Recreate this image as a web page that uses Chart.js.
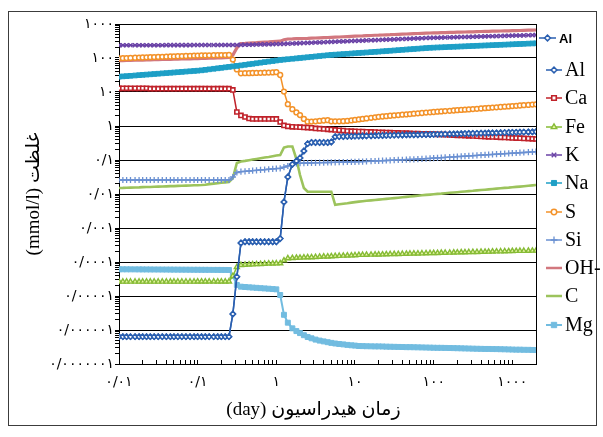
<!DOCTYPE html>
<html>
<head>
<meta charset="utf-8">
<script src="https://cdn.jsdelivr.net/npm/chart.js@4.4.1/dist/chart.umd.min.js"></script>
<style>
  html, body { margin: 0; padding: 0; background: #fff; }
  canvas { display: block; }
</style>
</head>
<body>
<canvas id="chart" width="603" height="437" style="width:603px;height:437px"></canvas>
<script>
// Hydration time in days (model output steps)
const days = [
  0.01,0.0112,0.0125,0.014,0.016,0.018,0.02,0.0224,0.025,0.028,0.0315,0.0355,0.04,0.045,0.05,0.056,0.063,0.071,0.08,0.09,
  0.1,0.112,0.125,0.14,0.16,0.18,0.2,0.224,0.25,0.28,0.315,0.355,0.4,0.45,0.5,0.56,0.63,0.71,0.8,0.9,
  1,1.12,1.25,1.4,1.6,1.8,2,2.24,2.5,2.8,3.15,3.55,4,4.5,5,5.6,6.3,7.1,8,9,
  10,11.2,12.5,14,16,18,20,22.4,25,28,31.5,35.5,40,45,50,56,63,71,80,90,
  100,112,125,140,160,180,200,224,250,280,315,355,400,450,500,560,630,710,800,900,
  1000,1120,1250,1400,1600,1800,2000
];

// Concentrations, mmol/l
const alValues = [
  6.35e-7,6.35e-7,6.35e-7,6.35e-7,6.35e-7,6.35e-7,6.35e-7,6.35e-7,6.35e-7,6.35e-7,6.35e-7,6.35e-7,6.35e-7,6.35e-7,6.35e-7,6.35e-7,6.35e-7,6.35e-7,6.35e-7,6.35e-7,
  6.35e-7,6.35e-7,6.35e-7,6.35e-7,6.35e-7,6.35e-7,6.35e-7,6.35e-7,6.35e-7,2.96e-6,3.67e-5,3.62e-4,3.95e-4,3.95e-4,3.95e-4,3.95e-4,3.95e-4,3.95e-4,3.95e-4,3.95e-4,
  3.95e-4,4.88e-4,5.82e-3,0.0316,0.0748,0.0935,0.115,0.184,0.302,0.327,0.327,0.327,0.327,0.327,0.338,0.484,0.488,0.491,0.495,0.498,
  0.501,0.505,0.508,0.511,0.515,0.518,0.522,0.525,0.529,0.532,0.536,0.540,0.543,0.547,0.551,0.551,0.554,0.558,0.562,0.562,
  0.566,0.570,0.574,0.578,0.582,0.586,0.590,0.594,0.597,0.601,0.606,0.610,0.614,0.618,0.622,0.627,0.631,0.635,0.640,0.644,
  0.648,0.653,0.657,0.662,0.666,0.671,0.680
];

const caValues = [
  12.8,12.8,12.8,12.8,12.8,12.8,12.8,12.8,12.5,12.5,12.5,12.5,12.5,12.5,12.5,12.5,12.5,12.5,12.5,12.5,
  12.5,12.5,12.5,12.5,12.5,12.5,12.5,12.5,12.5,11.5,2.58,2.04,1.84,1.66,1.61,1.61,1.61,1.61,1.61,1.61,
  1.61,1.31,1.04,0.98,0.947,0.935,0.922,0.909,0.897,0.885,0.850,0.833,0.816,0.800,0.784,0.768,0.748,0.732,0.713,0.703,
  0.698,0.689,0.684,0.675,0.670,0.662,0.653,0.648,0.644,0.635,0.631,0.627,0.618,0.614,0.606,0.601,0.597,0.590,0.586,0.582,
  0.574,0.566,0.562,0.555,0.547,0.540,0.532,0.526,0.522,0.515,0.508,0.501,0.494,0.488,0.481,0.478,0.472,0.466,0.459,0.453,
  0.447,0.441,0.438,0.432,0.426,0.421,0.415
];

const feValues = [
  2.64e-5,2.64e-5,2.64e-5,2.64e-5,2.64e-5,2.64e-5,2.64e-5,2.64e-5,2.64e-5,2.64e-5,2.64e-5,2.64e-5,2.64e-5,2.64e-5,2.64e-5,2.64e-5,2.64e-5,2.64e-5,2.64e-5,2.64e-5,
  2.67e-5,2.67e-5,2.67e-5,2.67e-5,2.67e-5,2.67e-5,2.67e-5,2.67e-5,2.67e-5,3.87e-5,7.13e-5,8.17e-5,8.28e-5,8.39e-5,8.50e-5,8.61e-5,8.73e-5,8.85e-5,8.97e-5,9.03e-5,
  9.09e-5,9.16e-5,1.11e-4,1.29e-4,1.31e-4,1.33e-4,1.34e-4,1.36e-4,1.37e-4,1.38e-4,1.40e-4,1.42e-4,1.44e-4,1.45e-4,1.47e-4,1.49e-4,1.51e-4,1.53e-4,1.54e-4,1.56e-4,
  1.58e-4,1.61e-4,1.62e-4,1.63e-4,1.64e-4,1.65e-4,1.66e-4,1.67e-4,1.69e-4,1.70e-4,1.71e-4,1.72e-4,1.73e-4,1.74e-4,1.76e-4,1.77e-4,1.78e-4,1.79e-4,1.81e-4,1.82e-4,
  1.83e-4,1.84e-4,1.86e-4,1.87e-4,1.88e-4,1.89e-4,1.91e-4,1.92e-4,1.93e-4,1.95e-4,1.96e-4,1.97e-4,1.99e-4,2.00e-4,2.01e-4,2.03e-4,2.04e-4,2.05e-4,2.07e-4,2.08e-4,
  2.10e-4,2.11e-4,2.12e-4,2.12e-4,2.14e-4,2.15e-4,2.15e-4
];

const kValues = [
  237,237,237,237,238,238,238,238,238,238,238,238,239,239,239,239,239,239,239,240,
  240,240,240,240,240,241,241,241,241,241,241,243,245,246,248,249,251,252,254,255,
  257,258,261,264,267,270,273,276,279,282,285,288,292,295,298,301,305,308,312,315,
  318,322,325,329,333,336,340,343,347,350,354,358,362,366,370,373,378,382,386,390,
  393,395,398,401,405,407,410,413,416,419,422,426,429,432,435,438,441,445,448,451,
  454,457,460,463,468,471,474
];

const naValues = [
  28.2,28.8,29.3,29.9,30.6,31.3,31.9,32.5,33.1,33.8,34.5,35.3,36.0,36.8,37.5,38.2,39.0,39.9,40.7,41.6,
  42.4,43.4,44.9,46.4,48.2,49.8,51.4,53.1,54.8,56.6,58.6,60.7,63.1,65.5,67.6,70.1,72.8,75.6,78.5,81.5,
  84.3,87.5,89.8,92.1,95.0,97.5,100,102.6,105.2,108.1,111.2,114.3,117.5,120.5,123.3,125.6,128.0,130.6,133.0,135.5,
  138.0,140.6,142.9,145.5,148.9,151.7,154.2,157.4,160.3,163.3,166.7,170.2,173.8,177.4,180.7,184.1,187.9,191.9,195.9,199.5,
  201.8,204.2,206.1,208.4,211.3,213.8,215.8,218.3,220.8,223.4,225.9,228.6,231.2,233.9,236.0,238.8,241.5,244.3,247.2,250.0,
  252.9,255.9,258.2,261.2,264.8,267.9,270.4
];

const sValues = [
  98.0,98.8,99.8,100.7,101.7,102.8,103.5,104.5,105.4,106.4,107.4,108.4,109.4,110.7,111.4,112.5,113.5,114.6,115.9,116.9,
  117.8,118.9,119.4,119.9,120.5,121.1,121.6,121.9,122.5,90,46,35.5,35.7,35.9,36.2,36.4,36.7,36.9,37.2,37.7,
  38.2,31.6,10.3,4.38,3.12,2.51,2.09,1.62,1.34,1.35,1.37,1.41,1.45,1.48,1.37,1.37,1.37,1.39,1.41,1.46,
  1.51,1.56,1.62,1.67,1.74,1.80,1.86,1.90,1.95,2.00,2.05,2.09,2.15,2.19,2.25,2.30,2.36,2.41,2.48,2.53,
  2.58,2.64,2.69,2.74,2.80,2.86,2.92,2.98,3.02,3.08,3.14,3.21,3.27,3.34,3.41,3.48,3.55,3.62,3.70,3.77,
  3.85,3.93,4.01,4.09,4.18,4.26,4.35
];

const siValues = [
  0.0258,0.0258,0.0258,0.0258,0.0258,0.0258,0.0258,0.0258,0.0258,0.0258,0.0258,0.0258,0.0258,0.0258,0.0258,0.0258,0.0258,0.0258,0.0258,0.0258,
  0.0258,0.0258,0.0258,0.0258,0.0258,0.0258,0.0258,0.0258,0.0258,0.0316,0.0429,0.0453,0.0465,0.0474,0.0487,0.0497,0.0510,0.0521,0.0535,0.0547,
  0.0558,0.0570,0.0614,0.0667,0.0733,0.0794,0.0805,0.0811,0.0816,0.0822,0.0827,0.0833,0.0838,0.0844,0.0850,0.0856,0.0862,0.0867,0.0873,0.0879,
  0.0885,0.0891,0.0897,0.0910,0.0922,0.0935,0.0947,0.0954,0.0967,0.0980,0.0993,0.1007,0.1014,0.1028,0.1042,0.1049,0.1063,0.1077,0.1100,0.1115,
  0.1138,0.1153,0.1169,0.1192,0.1217,0.1234,0.1259,0.1276,0.1294,0.1320,0.1338,0.1365,0.1393,0.1412,0.1432,0.1462,0.1482,0.1511,0.1532,0.1563,
  0.1585,0.1607,0.1640,0.1663,0.1696,0.1730,0.1754
];

const ohValues = [
  83.4,84.0,84.5,85.1,85.9,86.5,87.1,87.7,88.3,88.9,89.5,90.2,90.8,91.6,92.0,92.7,93.5,94.2,94.8,95.5,
  96.2,96.8,97.7,98.6,99.8,100.7,101.4,102.3,103.3,122,197,267,270,276,280,284,290,294,298,304,
  308,312,343,362,365,370,372,375,377,382,387,390,395,401,406,412,415,421,426,432,
  438,444,447,453,459,466,469,475,481,484,491,498,505,508,515,522,526,532,536,543,
  547,551,555,558,566,570,574,578,582,586,590,594,601,605,610,614,618,622,627,631,
  635,640,644,653,658,662,666
];

const cValues = [
  0.0150,0.0151,0.0153,0.0154,0.0156,0.0157,0.0159,0.0160,0.0161,0.0163,0.0165,0.0166,0.0168,0.0170,0.0171,0.0173,0.0174,0.0176,0.0178,0.0180,
  0.0181,0.0183,0.0188,0.0195,0.0202,0.0208,0.0214,0.0220,0.0227,0.0296,0.0816,0.0904,0.0941,0.0987,0.1028,0.107,0.112,0.118,0.123,0.129,
  0.135,0.140,0.233,0.249,0.249,0.107,0.0362,0.0150,0.0117,0.0117,0.0117,0.0117,0.0117,0.0117,0.0117,0.00481,0.00501,0.00519,0.00536,0.00558,
  0.00578,0.00598,0.00614,0.00631,0.00649,0.00667,0.00685,0.00703,0.00718,0.00738,0.00757,0.00778,0.00800,0.00822,0.00844,0.00867,0.00891,0.00916,0.00941,0.00960,
  0.00980,0.01007,0.01028,0.01057,0.01084,0.01107,0.01130,0.01161,0.01186,0.01217,0.01242,0.01276,0.01311,0.01337,0.01365,0.01403,0.01442,0.01472,0.01511,0.01543,
  0.01585,0.01618,0.01652,0.01696,0.01742,0.01790,0.01841
];

const mgValues = [
  6.10e-5,6.10e-5,6.09e-5,6.08e-5,6.07e-5,6.06e-5,6.05e-5,6.04e-5,6.03e-5,6.02e-5,6.01e-5,6.00e-5,5.99e-5,5.98e-5,5.97e-5,5.96e-5,5.95e-5,5.94e-5,5.93e-5,5.92e-5,
  5.91e-5,5.90e-5,5.89e-5,5.88e-5,5.87e-5,5.86e-5,5.85e-5,5.84e-5,5.82e-5,3.87e-5,2.11e-5,1.88e-5,1.84e-5,1.80e-5,1.77e-5,1.74e-5,1.70e-5,1.67e-5,1.64e-5,1.60e-5,
  1.57e-5,1.07e-5,2.80e-6,1.64e-6,1.12e-6,9.29e-7,8.11e-7,7.03e-7,6.22e-7,5.70e-7,5.22e-7,4.88e-7,4.62e-7,4.38e-7,4.18e-7,4.01e-7,3.88e-7,3.77e-7,3.65e-7,3.55e-7,
  3.48e-7,3.38e-7,3.36e-7,3.33e-7,3.31e-7,3.29e-7,3.29e-7,3.27e-7,3.24e-7,3.22e-7,3.20e-7,3.18e-7,3.16e-7,3.13e-7,3.13e-7,3.11e-7,3.09e-7,3.07e-7,3.05e-7,3.03e-7,
  3.01e-7,2.99e-7,2.99e-7,2.97e-7,2.95e-7,2.93e-7,2.91e-7,2.89e-7,2.87e-7,2.85e-7,2.83e-7,2.81e-7,2.79e-7,2.77e-7,2.77e-7,2.75e-7,2.74e-7,2.72e-7,2.70e-7,2.68e-7,
  2.66e-7,2.64e-7,2.64e-7,2.62e-7,2.61e-7,2.59e-7,2.57e-7
];

// Axis tick values and their Persian labels
const yTickValues = [1000, 100, 10, 1, 0.1, 0.01, 0.001, 0.0001, 0.00001, 0.000001, 0.0000001];
const yTickLabels = ['۱۰۰۰', '۱۰۰', '۱۰', '۱', '۰/۱', '۰/۰۱', '۰/۰۰۱', '۰/۰۰۰۱', '۰/۰۰۰۰۱', '۰/۰۰۰۰۰۱', '۰/۰۰۰۰۰۰۱'];
const xTickValues = [0.01, 0.1, 1, 10, 100, 1000];
const xTickLabels = ['۰/۰۱', '۰/۱', '۱', '۱۰', '۱۰۰', '۱۰۰۰'];

const yTitle = '(mmol/l) غلظت';
const xTitle = '(day) زمان هیدراسیون';

function isDecade(v) {
  if (!(v > 0)) return false;
  const l = Math.log10(v);
  return Math.abs(l - Math.round(l)) < 1e-6;
}

function labelFor(v, values, labels) {
  if (!isDecade(v)) return '';
  const e = Math.round(Math.log10(v));
  const idx = values.findIndex(t => Math.round(Math.log10(t)) === e);
  return idx >= 0 ? labels[idx] : '';
}

// Major ticks at every decade, minor ticks at 2..9 of each decade
function logTicks(scale) {
  const lo = Math.floor(Math.log10(scale.min));
  const hi = Math.ceil(Math.log10(scale.max));
  const out = [];
  for (let e = lo; e <= hi; e++) {
    for (let m = 1; m <= 9; m++) {
      const v = Number((m * Math.pow(10, e)).toPrecision(6));
      if (v >= scale.min * (1 - 1e-9) && v <= scale.max * (1 + 1e-9)) out.push({ value: v });
    }
  }
  scale.ticks = out;
}

function series(label, values, color, extra) {
  return Object.assign({
    label: label,
    data: days.map((d, i) => ({ x: d, y: values[i] })),
    borderColor: color,
    backgroundColor: color,
    borderWidth: 1.5,
    pointBorderColor: color,
    pointBackgroundColor: '#ffffff',
    pointBorderWidth: 1.5,
    pointRadius: 2.3,
    pointStyle: 'circle',
    tension: 0,
    fill: false
  }, extra);
}

const datasets = [
  series('Al', alValues, '#2a5fb0', { pointStyle: 'rectRot', pointRadius: 2.6, legendBold: true }),
  series('Al', alValues, '#2a5fb0', { pointStyle: 'rectRot', pointRadius: 2.6 }),
  series('Ca', caValues, '#c0222a', { pointStyle: 'rect', pointRadius: 2.9, pointBorderWidth: 1.6 }),
  series('Fe', feValues, '#86bb35', { pointStyle: 'triangle', pointRadius: 2.9, pointBackgroundColor: '#e8f5a8', pointBorderWidth: 1.4 }),
  series('K', kValues, '#6a42a6', { pointStyle: 'crossRot', pointRadius: 2.9, pointBorderWidth: 1.4 }),
  series('Na', naValues, '#1e9fc6', { pointStyle: 'rect', pointRadius: 3.3, pointBackgroundColor: '#1e9fc6', pointBorderWidth: 1 }),
  series('S', sValues, '#f39229', { pointStyle: 'circle', pointRadius: 2.4, pointBorderWidth: 1.5 }),
  series('Si', siValues, '#6a90d2', { pointStyle: 'cross', pointRadius: 3.1, pointBorderWidth: 1.3 }),
  series('OH-', ohValues, '#d2777e', { pointRadius: 0, borderWidth: 3.2 }),
  series('C', cValues, '#9cc35c', { pointRadius: 0, borderWidth: 2.6 }),
  series('Mg', mgValues, '#72bce0', { pointStyle: 'rect', pointRadius: 3.5, pointBackgroundColor: '#72bce0', pointBorderWidth: 1, borderWidth: 2 })
];

// White page, thin outer frame, right-hand edge of the plot box and the x-axis title
const framePlugin = {
  id: 'frame',
  beforeDraw(chart) {
    const ctx = chart.ctx;
    ctx.save();
    ctx.fillStyle = '#ffffff';
    ctx.fillRect(0, 0, chart.width, chart.height);
    ctx.restore();
  },
  afterDraw(chart) {
    const ctx = chart.ctx;
    const a = chart.chartArea;
    ctx.save();
    ctx.strokeStyle = '#000';
    ctx.lineWidth = 1;
    const rx = Math.round(a.right) + 0.5;
    ctx.beginPath();
    ctx.moveTo(rx, Math.round(a.top));
    ctx.lineTo(rx, Math.round(a.bottom) + 1);
    ctx.stroke();
    ctx.strokeStyle = '#3c3c3c';
    ctx.strokeRect(8.5, 11.5, 588, 414);
    ctx.fillStyle = '#000';
    ctx.font = '19px "Liberation Serif", "DejaVu Sans"';
    ctx.textAlign = 'center';
    ctx.textBaseline = 'middle';
    ctx.fillText(xTitle, (a.left + a.right) / 2 - 14, 410);
    ctx.restore();
  }
};

function drawMarker(ctx, ds, x, y) {
  ctx.fillStyle = ds.pointBackgroundColor;
  ctx.strokeStyle = ds.pointBorderColor;
  ctx.lineWidth = ds.pointBorderWidth;
  if (Chart.helpers && Chart.helpers.drawPoint) {
    Chart.helpers.drawPoint(ctx, {
      pointStyle: ds.pointStyle, rotation: 0, radius: ds.pointRadius + 0.3, borderWidth: ds.pointBorderWidth
    }, x, y);
  } else {
    ctx.beginPath();
    ctx.arc(x, y, ds.pointRadius, 0, Math.PI * 2);
    ctx.fill();
    ctx.stroke();
  }
}

// Series key drawn beside the plot
const sideLegend = {
  id: 'sideLegend',
  afterDraw(chart) {
    const ctx = chart.ctx;
    const rows = [38, 70, 98, 127, 155, 183, 212, 240, 268, 296, 325];
    chart.data.datasets.forEach((ds, i) => {
      const y = rows[i];
      const bold = !!ds.legendBold;
      const x0 = bold ? 539 : 546;
      const x1 = bold ? 556 : 562;
      const tx = bold ? 559 : 565;
      ctx.save();
      ctx.strokeStyle = ds.borderColor;
      ctx.lineWidth = Math.min(ds.borderWidth, 2.5);
      ctx.beginPath();
      ctx.moveTo(x0, y);
      ctx.lineTo(x1, y);
      ctx.stroke();
      if (ds.pointRadius > 0) drawMarker(ctx, ds, (x0 + x1) / 2, y);
      ctx.fillStyle = '#000';
      ctx.textAlign = 'left';
      ctx.textBaseline = 'middle';
      ctx.font = bold ? 'bold 13px "Liberation Sans", Arial, sans-serif' : '20px "Liberation Serif", "Times New Roman", serif';
      ctx.fillText(ds.label, tx, y + 1);
      ctx.restore();
    });
  }
};

new Chart(document.getElementById('chart'), {
  type: 'line',
  data: { datasets: datasets },
  options: {
    responsive: false,
    devicePixelRatio: 1,
    animation: false,
    events: [],
    layout: { padding: { left: 10, right: 67, top: 24, bottom: 0 } },
    plugins: { legend: { display: false }, tooltip: { enabled: false }, title: { display: false } },
    elements: { line: { tension: 0 } },
    scales: {
      x: {
        type: 'logarithmic',
        position: 'bottom',
        min: 0.01,
        max: 2000,
        afterBuildTicks: logTicks,
        afterFit: s => { s.height = 73; },
        ticks: {
          autoSkip: false,
          maxRotation: 0,
          padding: 14,
          color: '#000',
          font: { family: '"DejaVu Sans"', size: 14 },
          callback: v => labelFor(v, xTickValues, xTickLabels)
        },
        grid: { drawOnChartArea: false, tickLength: -4, color: '#000', lineWidth: 1 },
        border: { display: true, color: '#000', width: 1 }
      },
      y: {
        type: 'logarithmic',
        min: 1e-7,
        max: 1000,
        afterBuildTicks: logTicks,
        afterFit: s => { s.width = 109; },
        ticks: {
          autoSkip: false,
          padding: 1,
          color: '#000',
          font: { family: '"DejaVu Sans"', size: 14 },
          callback: v => labelFor(v, yTickValues, yTickLabels)
        },
        grid: {
          color: c => (c.tick && isDecade(c.tick.value)) ? '#000' : 'rgba(0,0,0,0)',
          tickColor: '#000',
          tickLength: 4,
          lineWidth: 1
        },
        border: { display: true, color: '#000', width: 1 },
        title: {
          display: true,
          text: yTitle,
          color: '#000',
          font: { family: '"Liberation Serif", "DejaVu Sans"', size: 19 },
          padding: { top: 13, bottom: 0 }
        }
      }
    }
  },
  plugins: [framePlugin, sideLegend]
});
</script>
</body>
</html>
